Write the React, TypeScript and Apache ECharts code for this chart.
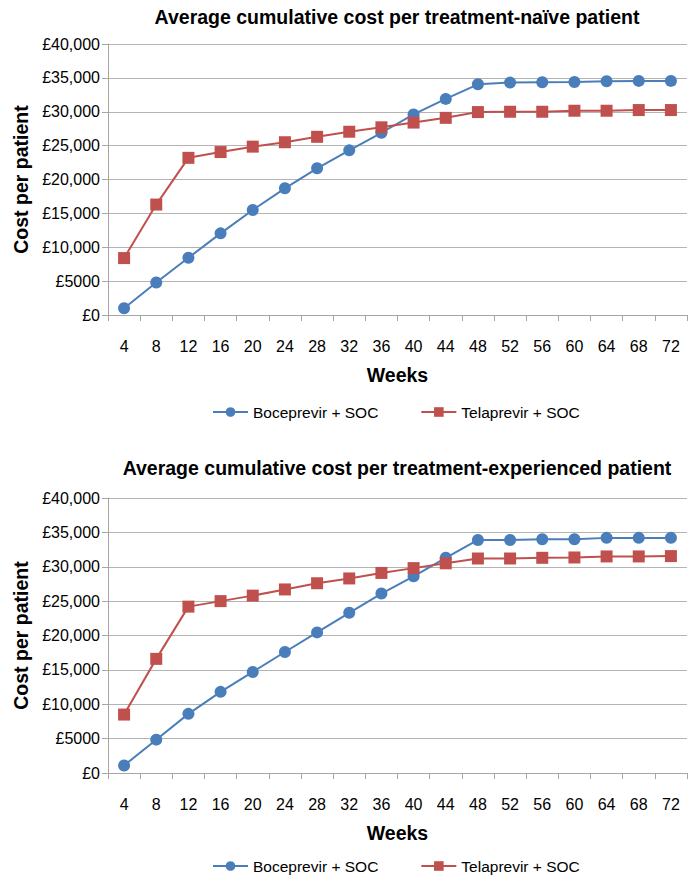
import React, { useEffect, useRef } from 'react';
import * as echarts from 'echarts';

const weeks = ['4', '8', '12', '16', '20', '24', '28', '32', '36', '40', '44', '48', '52', '56', '60', '64', '68', '72'];
const naiveBoceprevir = [1000, 4800, 8450, 12050, 15500, 18700, 21650, 24300, 26900, 29600, 31900, 34050, 34300, 34350, 34400, 34500, 34550, 34550];
const naiveTelaprevir = [8400, 16300, 23200, 24050, 24850, 25500, 26300, 27050, 27700, 28400, 29100, 29950, 30000, 30000, 30150, 30150, 30250, 30250];
const expBoceprevir = [1100, 4850, 8600, 11800, 14700, 17600, 20450, 23300, 26100, 28600, 31300, 33900, 33900, 34000, 34000, 34200, 34200, 34200];
const expTelaprevir = [8500, 16600, 24200, 25000, 25800, 26700, 27600, 28300, 29100, 29800, 30500, 31200, 31200, 31300, 31350, 31500, 31500, 31550];
const yTickLabels = ['£0', '£5000', '£10,000', '£15,000', '£20,000', '£25,000', '£30,000', '£35,000', '£40,000'];
const seriesNames = ['Boceprevir + SOC', 'Telaprevir + SOC'];
const titles = [
  'Average cumulative cost per treatment-naïve patient',
  'Average cumulative cost per treatment-experienced patient',
];

const FONT = 'Arial, "Liberation Sans", sans-serif';
const BLUE = '#4a7ebb';
const RED = '#c0504d';

export default function App() {
  const ref = useRef<HTMLDivElement>(null);
  useEffect(() => {
    if (!ref.current) return;
    const chart = echarts.init(ref.current, undefined, { renderer: 'svg' });
    const grids = [
      { left: 108, right: 9, top: 44, height: 271 },
      { left: 108, right: 9, top: 498, height: 275 },
    ];
    const titleTops = [7, 458];
    const legendTops = [404, 858];
    const data = [
      [naiveBoceprevir, naiveTelaprevir],
      [expBoceprevir, expTelaprevir],
    ];
    const xAxis = grids.map((_, i) => ({
      type: 'category',
      gridIndex: i,
      data: weeks,
      boundaryGap: true,
      name: 'Weeks',
      nameLocation: 'middle',
      nameGap: 50,
      nameTextStyle: { fontFamily: FONT, fontSize: 19.5, fontWeight: 'bold', color: '#000' },
      axisLine: { lineStyle: { color: '#a6a6a6', width: 1 } },
      axisTick: { show: true, length: 6, lineStyle: { color: '#a6a6a6' } },
      axisLabel: { fontFamily: FONT, fontSize: 16, color: '#000', margin: 23, interval: 0 },
    }));
    const yAxis = grids.map((_, i) => ({
      type: 'value',
      gridIndex: i,
      min: 0,
      max: 40000,
      interval: 5000,
      name: 'Cost per patient',
      nameLocation: 'middle',
      nameRotate: 90,
      nameGap: 76,
      nameTextStyle: { fontFamily: FONT, fontSize: 19.5, fontWeight: 'bold', color: '#000' },
      axisLine: { show: true, lineStyle: { color: '#a6a6a6', width: 1 } },
      axisTick: { show: true, length: 6, lineStyle: { color: '#a6a6a6' } },
      splitLine: { show: true, lineStyle: { color: '#b3b3b3', width: 1 } },
      axisLabel: {
        fontFamily: FONT,
        fontSize: 16,
        color: '#000',
        margin: 8,
        formatter: (v: number) => yTickLabels[Math.round(v / 5000)] ?? '',
      },
    }));
    const series: any[] = [];
    data.forEach((pair, i) => {
      pair.forEach((vals, j) => {
        series.push({
          type: 'line',
          name: seriesNames[j],
          xAxisIndex: i,
          yAxisIndex: i,
          data: vals,
          symbol: j === 0 ? 'circle' : 'rect',
          symbolSize: 12,
          lineStyle: { color: j === 0 ? BLUE : RED, width: 2 },
          itemStyle: { color: j === 0 ? BLUE : RED },
        });
      });
    });
    chart.setOption({
      animation: false,
      backgroundColor: '#fff',
      title: titles.map((t, i) => ({
        text: t,
        left: 397,
        textAlign: 'center',
        top: titleTops[i],
        padding: 0,
        textStyle: { fontFamily: FONT, fontSize: 19.5, fontWeight: 'bold', color: '#000' },
      })),
      legend: legendTops.map((top) => ({
        data: seriesNames,
        left: 212,
        top,
        itemWidth: 35,
        itemHeight: 12,
        itemGap: 42,
        padding: 0,
        textStyle: { fontFamily: FONT, fontSize: 15.5, color: '#000' },
      })),
      grid: grids,
      xAxis,
      yAxis,
      series,
    });
    return () => chart.dispose();
  }, []);
  return (
    <div
      ref={ref}
      style={{ position: 'fixed', left: 0, top: 0, width: 696, height: 884, background: '#fff' }}
    />
  );
}
